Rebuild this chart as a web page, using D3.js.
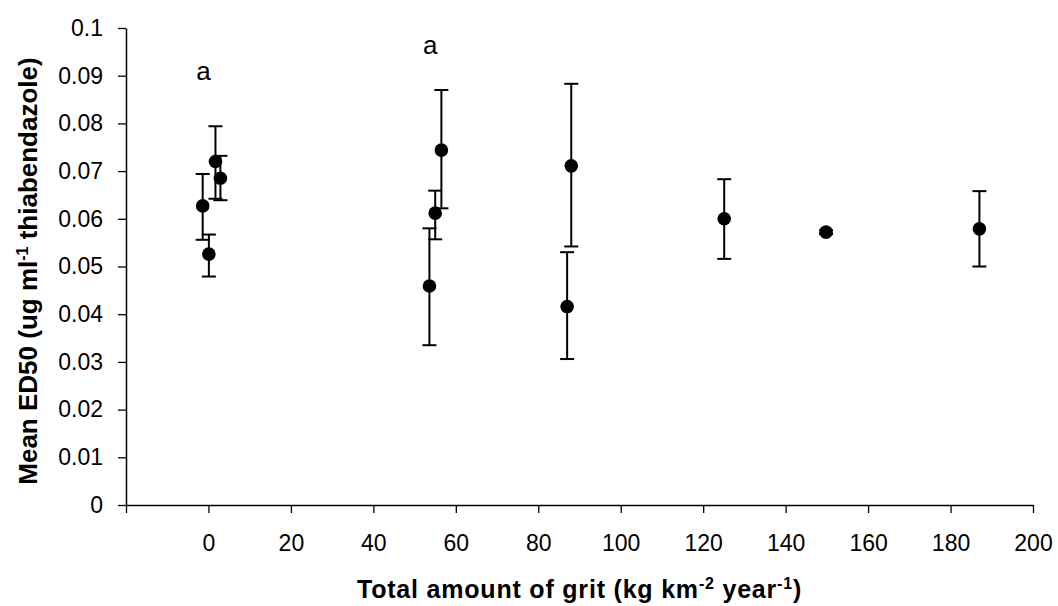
<!DOCTYPE html>
<html>
<head>
<meta charset="utf-8">
<script src="https://cdn.jsdelivr.net/npm/d3@7"></script>
<style>
  html, body { margin: 0; padding: 0; background: #fff; }
  svg { display: block; }
  text { font-family: "Liberation Sans", Arial, sans-serif; fill: #000; }
</style>
</head>
<body>
<svg id="chart" width="1058" height="606"></svg>
<script>
// ---- data ----
const grit   = [1.7, 2.9, -1.4, 0.1, 56.5, 55.0, 53.6, 88.0, 87.0, 125.1, 149.8, 187.0];
const ed50   = [0.0720, 0.0685, 0.0627, 0.0526, 0.0744, 0.0612, 0.0459, 0.0711, 0.0416, 0.0600, 0.0572, 0.0579];
const upper  = [0.0794, 0.0732, 0.0694, 0.0567, 0.0870, 0.0659, 0.0580, 0.0883, 0.0530, 0.0683, 0.0576, 0.0658];
const lower  = [0.0642, 0.0639, 0.0556, 0.0479, 0.0622, 0.0557, 0.0335, 0.0542, 0.0306, 0.0516, 0.0568, 0.0500];
const letterX = [-1.2, 53.8];
const letterY = [0.0890, 0.0945];
const letterText = ["a", "a"];
const xTicks = [-20, 0, 20, 40, 60, 80, 100, 120, 140, 160, 180, 200];
const xTickLabels = ["", "0", "20", "40", "60", "80", "100", "120", "140", "160", "180", "200"];
const yTicks = [0, 0.01, 0.02, 0.03, 0.04, 0.05, 0.06, 0.07, 0.08, 0.09, 0.1];
const yTickLabels = ["0", "0.01", "0.02", "0.03", "0.04", "0.05", "0.06", "0.07", "0.08", "0.09", "0.1"];

const svg = d3.select("#chart");
const x = d3.scaleLinear().domain([-20, 200]).range([126, 1033]);
const y = d3.scaleLinear().domain([0, 0.1]).range([505, 28]);

// axes
const xAxis = d3.axisBottom(x).tickValues(xTicks).tickSize(8).tickPadding(22)
  .tickFormat((d, i) => xTickLabels[i]).tickSizeOuter(0);
const yAxis = d3.axisLeft(y).tickValues(yTicks).tickSize(8).tickPadding(15)
  .tickFormat((d, i) => yTickLabels[i]).tickSizeOuter(0);

const gx = svg.append("g").attr("transform", `translate(0,${y(0)})`).call(xAxis);
const gy = svg.append("g").attr("transform", `translate(${x(-20)},0)`).call(yAxis);
[gx, gy].forEach(g => {
  g.attr("font-size", 23).attr("font-family", "Liberation Sans, Arial, sans-serif");
  g.select(".domain").attr("stroke", "#000").attr("stroke-width", 1.5);
  g.selectAll(".tick line").attr("stroke", "#000").attr("stroke-width", 1.3);
  g.selectAll(".tick text").attr("fill", "#000");
});

// error bars
const idx = d3.range(grit.length);
const capW = 7;
const eb = svg.append("g").attr("stroke", "#000").attr("stroke-width", 2);
eb.selectAll("line.v").data(idx).join("line")
  .attr("x1", i => x(grit[i])).attr("x2", i => x(grit[i]))
  .attr("y1", i => y(upper[i])).attr("y2", i => y(lower[i]));
eb.selectAll("line.t").data(idx).join("line")
  .attr("x1", i => x(grit[i]) - capW).attr("x2", i => x(grit[i]) + capW)
  .attr("y1", i => y(upper[i])).attr("y2", i => y(upper[i]));
eb.selectAll("line.b").data(idx).join("line")
  .attr("x1", i => x(grit[i]) - capW).attr("x2", i => x(grit[i]) + capW)
  .attr("y1", i => y(lower[i])).attr("y2", i => y(lower[i]));

// points
svg.append("g").selectAll("circle").data(idx).join("circle")
  .attr("cx", i => x(grit[i])).attr("cy", i => y(ed50[i])).attr("r", 6.8)
  .attr("fill", "#000");

// letters
svg.append("g").selectAll("text").data(letterText).join("text")
  .attr("x", (d, i) => x(letterX[i])).attr("y", (d, i) => y(letterY[i]))
  .attr("text-anchor", "middle").attr("font-size", 26).text(d => d);

// axis titles
const xt = svg.append("text").attr("x", (x(-20) + x(200)) / 2).attr("y", 598)
  .attr("text-anchor", "middle").attr("font-size", 25).attr("font-weight", "bold")
  .attr("letter-spacing", 0.8);
xt.append("tspan").text("Total amount of grit (kg km");
xt.append("tspan").attr("dy", -9).attr("font-size", 16).text("-2");
xt.append("tspan").attr("dy", 9).text(" year");
xt.append("tspan").attr("dy", -9).attr("font-size", 16).text("-1");
xt.append("tspan").attr("dy", 9).text(")");

const yt = svg.append("text").attr("transform", `translate(37,${271}) rotate(-90)`)
  .attr("text-anchor", "middle").attr("font-size", 26).attr("font-weight", "bold");
yt.append("tspan").text("Mean ED50 (ug ml");
yt.append("tspan").attr("dy", -9).attr("font-size", 16).text("-1");
yt.append("tspan").attr("dy", 9).text(" thiabendazole)");
</script>
</body>
</html>
